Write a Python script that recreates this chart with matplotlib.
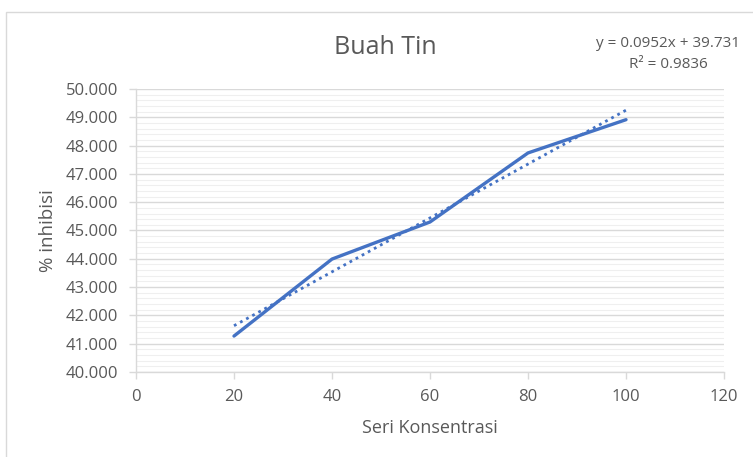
import numpy as np
import matplotlib
matplotlib.use("Agg")
import matplotlib.pyplot as plt
from matplotlib.ticker import MultipleLocator, FuncFormatter
from matplotlib.patches import Rectangle

konsentrasi = [20, 40, 60, 80, 100]
inhibisi = [41.27, 43.99, 45.30, 47.74, 48.915]
title = "Buah Tin"
xlabel = "Seri Konsentrasi"
ylabel = "% inhibisi"
eq_text = "y = 0.0952x + 39.731\nR² = 0.9836"

plt.rcParams['font.family'] = ['Open Sans', 'DejaVu Sans']
txt = '#595959'

fig = plt.figure(figsize=(7.53, 4.57), dpi=100)
fig.patches.append(Rectangle((0.008, -0.01), 1.0, 0.984, transform=fig.transFigure,
                             fill=False, edgecolor='#d9d9d9', linewidth=1))
ax = fig.add_axes([0.1806, 0.186, 0.7809, 0.6193])

ax.set_xlim(0, 120)
ax.set_ylim(40, 50)
ax.xaxis.set_major_locator(MultipleLocator(20))
ax.yaxis.set_major_locator(MultipleLocator(1))
ax.yaxis.set_minor_locator(MultipleLocator(0.2))
ax.yaxis.set_major_formatter(FuncFormatter(lambda v, p: f"{v:.3f}"))

ax.grid(axis='y', which='major', color='#d9d9d9', linewidth=1)
ax.grid(axis='y', which='minor', color='#efefef', linewidth=0.8)
ax.set_axisbelow(True)

for s in ['top', 'right']:
    ax.spines[s].set_visible(False)
for s in ['left', 'bottom']:
    ax.spines[s].set_color('#d9d9d9')
    ax.spines[s].set_linewidth(1)

ax.tick_params(axis='both', which='major', colors='#d9d9d9', labelcolor=txt,
               labelsize=12, length=5, width=1, direction='out')
ax.tick_params(axis='y', which='minor', length=0)
ax.tick_params(axis='x', pad=7)
ax.tick_params(axis='y', pad=8)

x = np.array(konsentrasi, dtype=float)
y = np.array(inhibisi)
ax.plot(x, y, color='#4472C4', linewidth=2.4, solid_capstyle='round', zorder=3)

m, b = np.polyfit(x, y, 1)
ax.plot(x, m * x + b, color='#4472C4', linewidth=2.0, linestyle=(0, (1, 1.5)), zorder=4)

ax.set_xlabel(xlabel, color=txt, fontsize=13, labelpad=10)
ax.set_ylabel(ylabel, color=txt, fontsize=13.5, labelpad=6)

fig.text(0.512, 0.895, title, ha='center', va='center', color=txt, fontsize=18)
fig.text(0.887, 0.882, eq_text, ha='center', va='center', color=txt, fontsize=11,
         linespacing=1.55)

fig.savefig("out.png", dpi=100, facecolor='white')
